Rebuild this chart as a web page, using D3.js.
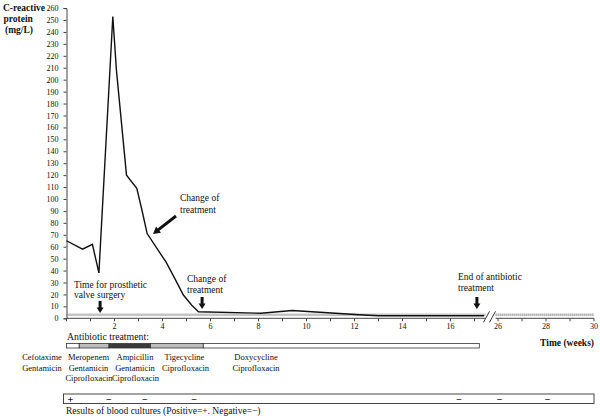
<!DOCTYPE html>
<html><head><meta charset="utf-8">
<script src="https://cdn.jsdelivr.net/npm/d3@7"></script>
<style>body{margin:0;background:#fff}svg{display:block;font-family:"Liberation Serif","Times New Roman",serif}</style>
</head><body><svg id="c" width="600" height="420"></svg>
<script>
// ---- data ----
const weeks = [0, 0.67, 1.08, 1.35, 1.93, 2.08, 2.5, 2.93, 3.14, 3.36, 4.15, 4.52, 4.87, 5.22, 5.5, 8.1, 9.4, 12.2, 13, 17.4];
const crp   = [65, 58, 62, 38, 253, 208, 120, 109, 91, 71, 47, 33, 19.5, 11, 5.5, 4.2, 6.5, 3, 2.2, 2.2];
const refLevel = 3;
const yTicks = d3.range(0, 261, 10);
const xTicksLeft = d3.range(0, 18, 1);
const xTicksRight = [26, 27, 28, 29, 30];
const xLabels = [2, 4, 6, 8, 10, 12, 14, 16, 26, 28, 30];
const treatStart = [0, 0.53, 1.77, 3.5, 5.7];
const treatEnd   = [0.53, 1.77, 3.5, 5.7, 17.2];
const treatShade = ["white", "light", "dark", "light", "white"];
const treatDrugs = [
  ["Cefotaxime", "Gentamicin"],
  ["Meropenem", "Gentamicin", "Ciprofloxacin"],
  ["Ampicillin", "Gentamicin", "Ciprofloxacin"],
  ["Tigecycline", "Ciprofloxacin"],
  ["Doxycycline", "Ciprofloxacin"]
];
const cultureWeeks = [0.1, 1.7, 3.2, 5.25, 16.3, 26, 28];
const cultureResults = ["+", "\u2212", "\u2212", "\u2212", "\u2212", "\u2212", "\u2212"];

// ---- layout ----
const svg = d3.select("#c");
const x = d3.scaleLinear().domain([0, 17.45, 25.9, 30]).range([66.5, 485.3, 495.6, 594]);
const y = d3.scaleLinear().domain([0, 260]).range([318.3, 8.1]);
const ink = "#111";

// y axis
const ya = svg.append("g").attr("transform", `translate(${x(0)},0)`)
  .call(d3.axisLeft(y).tickValues(yTicks).tickSize(3).tickPadding(5));
ya.selectAll("text").attr("font-size", 8).attr("fill", ink).attr("font-family", "Liberation Serif");
ya.selectAll("line,path").attr("stroke", "#444");

// x axis (broken)
function xAxisPart(d0, d1, ticks) {
  const g = svg.append("g");
  g.append("line").attr("x1", x(d0)).attr("x2", x(d1)).attr("y1", y(0)).attr("y2", y(0)).attr("stroke", "#444");
  g.selectAll("line.t").data(ticks).join("line").attr("class", "t")
    .attr("x1", d => x(d)).attr("x2", d => x(d)).attr("y1", y(0)).attr("y2", y(0) + 3).attr("stroke", "#444");
  g.append("line").attr("x1", x(d0)).attr("x2", x(d1)).attr("y1", y(refLevel)).attr("y2", y(refLevel))
    .attr("stroke", "#888").attr("stroke-width", 2.5).attr("stroke-dasharray", "1,1");
}
xAxisPart(0, 17.45, xTicksLeft);
xAxisPart(25.9, 30, xTicksRight);
svg.selectAll("text.xl").data(xLabels).join("text").attr("class", "xl")
  .attr("x", d => x(d)).attr("y", 329).attr("text-anchor", "middle").attr("font-size", 8).attr("fill", ink).text(d => d);
[486.5, 492.5].forEach(bx => {
  svg.append("line").attr("x1", bx - 3).attr("y1", y(0) + 4).attr("x2", bx + 3).attr("y2", y(0) - 7)
    .attr("stroke", "#333").attr("stroke-width", 1);
});

// data line
const pts = weeks.map((w, i) => [w, crp[i]]);
svg.append("path").datum(pts)
  .attr("d", d3.line().x(d => x(d[0])).y(d => y(d[1])))
  .attr("fill", "none").attr("stroke", ink).attr("stroke-width", 1.4).attr("stroke-linejoin", "miter");

// axis titles
const yt = svg.append("text").attr("font-size", 9.5).attr("font-weight", "bold").attr("fill", ink);
yt.append("tspan").attr("x", 3).attr("y", 11).text("C-reactive");
yt.append("tspan").attr("x", 3.5).attr("y", 22).text("protein");
yt.append("tspan").attr("x", 5).attr("y", 33).text("(mg/L)");
svg.append("text").attr("x", 594).attr("y", 346).attr("text-anchor", "end").attr("font-size", 9.5)
  .attr("font-weight", "bold").attr("fill", ink).text("Time (weeks)");

// arrows
function arrow(x1, y1, x2, y2, sw, hw, hl) {
  const dx = x2 - x1, dy = y2 - y1, L = Math.hypot(dx, dy);
  const ux = dx / L, uy = dy / L, nx = -uy, ny = ux;
  const bx = x2 - ux * hl, by = y2 - uy * hl;
  const p = [
    [x1 + nx * sw / 2, y1 + ny * sw / 2], [bx + nx * sw / 2, by + ny * sw / 2], [bx + nx * hw / 2, by + ny * hw / 2],
    [x2, y2], [bx - nx * hw / 2, by - ny * hw / 2], [bx - nx * sw / 2, by - ny * sw / 2], [x1 - nx * sw / 2, y1 - ny * sw / 2]
  ];
  svg.append("path").attr("d", "M" + p.map(q => q.join(",")).join("L") + "Z").attr("fill", ink);
}
function label(lines, x0, y0, dy) {
  const t = svg.append("text").attr("font-size", 9.5).attr("fill", ink);
  lines.forEach((s, i) => t.append("tspan").attr("x", x0).attr("y", y0 + i * dy).text(s));
}
label(["Change of", "treatment"], 180, 201, 12);
arrow(176, 216, 153, 234, 3, 8, 7);
label(["Time for prosthetic", "valve surgery"], 74, 288, 10);
arrow(x(1.4), 301, x(1.4), 313, 3, 7, 5.5);
label(["Change of", "treatment"], 187, 282, 11);
arrow(x(5.65), 297, x(5.65), 309, 3, 7, 5.5);
label(["End of antibiotic", "treatment"], 458, 280, 10.5);
arrow(x(17.1), 297, x(17.1), 309, 3, 7, 5.5);

// antibiotic treatment bar
svg.append("text").attr("x", 67).attr("y", 340).attr("font-size", 9.8).attr("fill", ink).text("Antibiotic treatment:");
const shade = { white: "#ffffff", light: "#bdbdbd", dark: "#3a3a3a" };
svg.selectAll("rect.tr").data(treatStart).join("rect").attr("class", "tr")
  .attr("x", (d) => x(d)).attr("width", (d, i) => x(treatEnd[i]) - x(d))
  .attr("y", 343.5).attr("height", 4.5)
  .attr("fill", (d, i) => shade[treatShade[i]]).attr("stroke", "#333").attr("stroke-width", 0.8);
const drugCenters = [
  [42, 42], [88.5, 88.5, 89], [135, 135, 135.5], [184.5, 185.5], [256, 256]
];
treatDrugs.forEach((lines, i) => {
  lines.forEach((s, j) => {
    svg.append("text").attr("x", drugCenters[i][j]).attr("y", 360 + j * 10.7)
      .attr("text-anchor", "middle").attr("font-size", 8.5).attr("fill", ink).text(s);
  });
});

// blood cultures
svg.append("rect").attr("x", x(0) - 3).attr("y", 394).attr("width", x(30) - x(0) + 3).attr("height", 9.5)
  .attr("fill", "none").attr("stroke", "#333").attr("stroke-width", 0.9);
svg.selectAll("text.cu").data(cultureWeeks).join("text").attr("class", "cu")
  .attr("x", d => x(d) + 1.5).attr("y", 402.5).attr("text-anchor", "middle")
  .attr("font-size", 10).attr("font-weight", "bold").attr("fill", ink)
  .text((d, i) => cultureResults[i]);
svg.append("text").attr("x", 66).attr("y", 413.5).attr("font-size", 9.5).attr("fill", ink)
  .text("Results of blood cultures (Positive=+. Negative=\u2212)");
</script></body></html>
